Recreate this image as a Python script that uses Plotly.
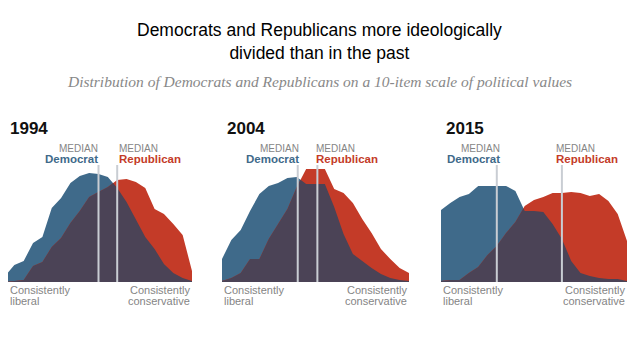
import plotly.graph_objects as go

# Ideology scale: -10 (consistently liberal) .. +10 (consistently conservative)
scale = list(range(-10, 11))
years = ["1994", "2004", "2015"]

# Share of respondents at each scale point (approx. %)
dem_1994 = [0.6, 1.7, 2.1, 3.9, 4.5, 7.4, 8.4, 9.9, 10.6, 10.9, 10.8, 10.5, 9.4, 8.0, 6.2, 4.5, 3.3, 1.8, 0.9, 0.4, 0.1]
rep_1994 = [0.0, 0.1, 0.2, 1.6, 2.0, 3.5, 4.4, 5.9, 7.1, 8.5, 9.0, 9.5, 10.2, 10.3, 10.0, 9.4, 7.3, 6.8, 5.8, 4.7, 1.1]
dem_2004 = [2.3, 4.2, 5.2, 7.1, 8.8, 9.6, 9.9, 10.4, 10.5, 9.8, 9.8, 9.8, 7.5, 4.8, 2.8, 2.1, 1.4, 0.8, 0.4, 0.2, 0.1]
rep_2004 = [0.1, 0.4, 0.9, 2.3, 2.3, 4.3, 5.8, 7.3, 9.5, 11.3, 11.3, 11.3, 9.3, 8.9, 7.9, 6.3, 4.9, 3.3, 2.3, 1.4, 0.9]
dem_2015 = [7.2, 7.9, 8.5, 8.8, 9.6, 9.6, 9.6, 9.6, 9.1, 7.1, 7.1, 7.0, 5.8, 4.3, 2.1, 0.9, 0.6, 0.4, 0.3, 0.3, 0.1]
rep_2015 = [0.1, 0.2, 0.2, 0.9, 1.5, 2.7, 3.6, 4.9, 6.0, 7.6, 8.2, 8.5, 8.9, 8.9, 9.0, 8.9, 8.6, 8.8, 8.1, 6.8, 4.1]

dem_median = [0.0, -1.9, -4.0]
rep_median = [2.0, 0.2, 3.0]

dem_series = [dem_1994, dem_2004, dem_2015]
rep_series = [rep_1994, rep_2004, rep_2015]

BLUE = "#3f6a8a"
RED = "#c43b28"
PURPLE = "#4b4356"
GREY_TXT = "#858585"
LINE_C = "#c9cdd3"
FONT = "Liberation Sans, Arial, sans-serif"


def overlap(x, a, b):
    xs, ys = [], []
    for i in range(len(x)):
        if i > 0:
            d0 = a[i - 1] - b[i - 1]
            d1 = a[i] - b[i]
            if d0 * d1 < 0:
                t = d0 / (d0 - d1)
                xs.append(x[i - 1] + t * (x[i] - x[i - 1]))
                ys.append(a[i - 1] + t * (a[i] - a[i - 1]))
        xs.append(x[i])
        ys.append(min(a[i], b[i]))
    return xs, ys


# page body has an 8px margin; figure is sized so that it fills the window
OFF = 8
W, H = 638 - OFF, 359 - OFF


def px(xp):
    return (xp - OFF) / W


def py(yp):
    return 1 - (yp - OFF) / H


domains = [(5, 192), (222, 409), (441, 627)]
base_px = 282
top_px = 157

fig = go.Figure()
annotations = []
shapes = []

dem_shift = [1, 3, 5]
rep_shift = [0, -3, -8]

layout_axes = {}
for i in range(3):
    xa = "x" if i == 0 else f"x{i+1}"
    ya = "y" if i == 0 else f"y{i+1}"
    a, b = domains[i]
    # clamp the domain into the page, extending the range to keep scale
    a_vis = max(a, OFF)
    r0 = -10 + (a_vis - a) * 20.0 / (b - a)
    layout_axes["xaxis" if i == 0 else f"xaxis{i+1}"] = dict(
        domain=[px(a_vis), px(b)], range=[r0, 10], visible=False, fixedrange=True,
        anchor=ya)
    layout_axes["yaxis" if i == 0 else f"yaxis{i+1}"] = dict(
        domain=[py(base_px), py(top_px)], range=[0, 12.5], visible=False,
        fixedrange=True, anchor=xa)
    left_paper = px(a_vis)
    right_paper = px(b)

    d, r = dem_series[i], rep_series[i]
    fig.add_trace(go.Scatter(x=scale, y=d, mode="lines", fill="tozeroy",
                             fillcolor=BLUE, line=dict(width=0, color=BLUE),
                             xaxis=xa, yaxis=ya, hoverinfo="skip", showlegend=False))
    fig.add_trace(go.Scatter(x=scale, y=r, mode="lines", fill="tozeroy",
                             fillcolor=RED, line=dict(width=0, color=RED),
                             xaxis=xa, yaxis=ya, hoverinfo="skip", showlegend=False))
    ox, oy = overlap(scale, d, r)
    fig.add_trace(go.Scatter(x=ox, y=oy, mode="lines", fill="tozeroy",
                             fillcolor=PURPLE, line=dict(width=0, color=PURPLE),
                             xaxis=xa, yaxis=ya, hoverinfo="skip", showlegend=False))

    for m in (dem_median[i], rep_median[i]):
        shapes.append(dict(type="line", xref=xa, yref=ya, x0=m, x1=m, y0=0, y1=11.7,
                           line=dict(color=LINE_C, width=2), layer="above"))

    year_x = px(max(a + 3, OFF))
    annotations += [
        dict(text="<b>" + years[i] + "</b>", xref="paper", yref="paper", x=year_x, y=py(128),
             xanchor="left", yanchor="middle", showarrow=False,
             font=dict(family=FONT, size=17, color="#111111")),
        dict(text="MEDIAN", xref=xa, yref="paper", x=dem_median[i], y=py(148),
             xanchor="right", yanchor="middle", xshift=dem_shift[i], showarrow=False,
             font=dict(family=FONT, size=10, color=GREY_TXT)),
        dict(text="<b>Democrat</b>", xref=xa, yref="paper", x=dem_median[i], y=py(159),
             xanchor="right", yanchor="middle", xshift=dem_shift[i], showarrow=False,
             font=dict(family=FONT, size=11.5, color=BLUE)),
        dict(text="MEDIAN", xref=xa, yref="paper", x=rep_median[i], y=py(148),
             xanchor="left", yanchor="middle", xshift=rep_shift[i], showarrow=False,
             font=dict(family=FONT, size=10, color=GREY_TXT)),
        dict(text="<b>Republican</b>", xref=xa, yref="paper", x=rep_median[i], y=py(159),
             xanchor="left", yanchor="middle", xshift=rep_shift[i], showarrow=False,
             font=dict(family=FONT, size=11.5, color=RED)),
        dict(text="Consistently", xref="paper", yref="paper", x=left_paper, y=py(290),
             xanchor="left", yanchor="middle", showarrow=False,
             font=dict(family=FONT, size=11, color=GREY_TXT)),
        dict(text="liberal", xref="paper", yref="paper", x=left_paper, y=py(300.5),
             xanchor="left", yanchor="middle", showarrow=False,
             font=dict(family=FONT, size=11, color=GREY_TXT)),
        dict(text="Consistently", xref="paper", yref="paper", x=right_paper, y=py(290),
             xanchor="right", yanchor="middle", showarrow=False,
             font=dict(family=FONT, size=11, color=GREY_TXT)),
        dict(text="conservative", xref="paper", yref="paper", x=right_paper, y=py(300.5),
             xanchor="right", yanchor="middle", showarrow=False,
             font=dict(family=FONT, size=11, color=GREY_TXT)),
    ]

annotations += [
    dict(text="Democrats and Republicans more ideologically<br>divided than in the past",
         xref="paper", yref="paper", x=px(319), y=py(41), xanchor="center", yanchor="middle",
         showarrow=False, font=dict(family=FONT, size=17.5, color="#000000")),
    dict(text="<i>Distribution of Democrats and Republicans on a 10-item scale of political values</i>",
         xref="paper", yref="paper", x=px(319), y=py(81), xanchor="center", yanchor="middle",
         showarrow=False, font=dict(family="Liberation Serif, Times New Roman, serif", size=15.5, color="#888888")),
]

fig.update_layout(
    width=W, height=H, margin=dict(l=0, r=0, t=0, b=0),
    paper_bgcolor="white", plot_bgcolor="white",
    showlegend=False, annotations=annotations, shapes=shapes,
    **layout_axes,
)
fig.write_html("out.html")
